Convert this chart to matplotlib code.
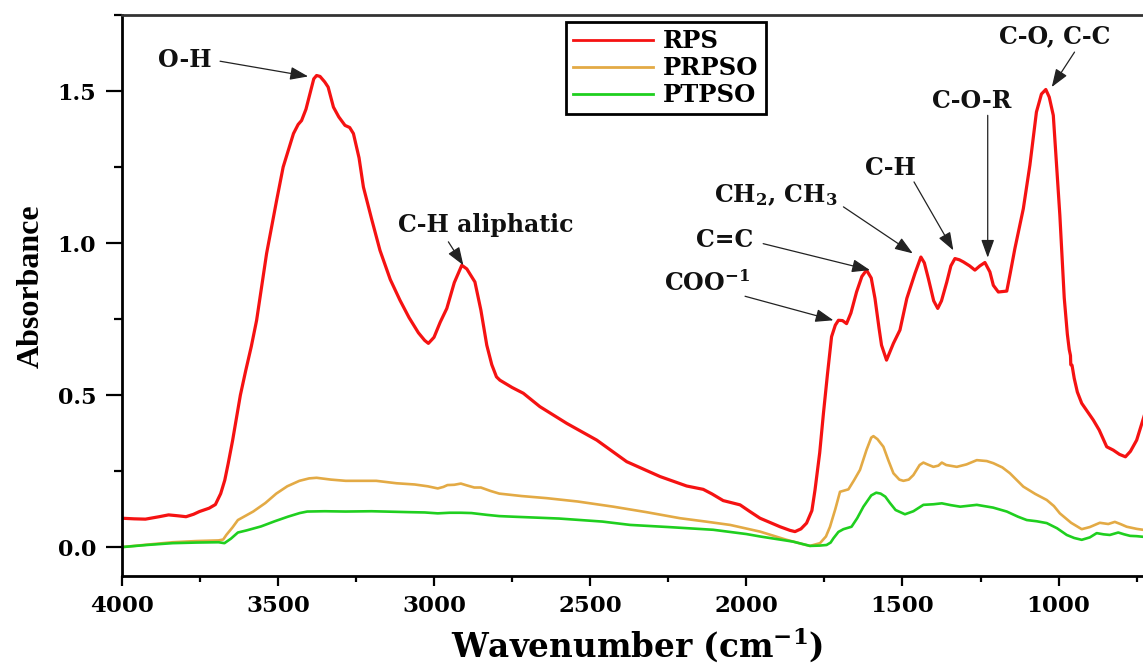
import matplotlib
matplotlib.use("Agg")
import matplotlib.pyplot as plt
from matplotlib.ticker import MultipleLocator, FormatStrFormatter

# ---------------- data ----------------
rps_w = [4000, 3960, 3924, 3880, 3850, 3820, 3794, 3770, 3751, 3720, 3700, 3683, 3670, 3659,
         3645, 3634, 3620, 3603, 3585, 3568, 3536, 3504, 3483, 3465, 3450, 3435, 3424, 3410,
         3395, 3385, 3376, 3365, 3350, 3339, 3322, 3305, 3285, 3270, 3258, 3240, 3226, 3200,
         3173, 3140, 3109, 3080, 3050, 3030, 3018, 3000, 2980, 2959, 2935, 2911, 2895, 2869,
         2850, 2831, 2815, 2800, 2789, 2750, 2714, 2661, 2575, 2479, 2383, 2276, 2191, 2138,
         2110, 2074, 2020, 1990, 1956, 1892, 1860, 1844, 1825, 1807, 1790, 1780, 1765, 1753,
         1740, 1727, 1715, 1705, 1692, 1679, 1665, 1647, 1630, 1615, 1600, 1588, 1575, 1567,
         1551, 1529, 1508, 1486, 1460, 1441, 1430, 1417, 1400, 1387, 1375, 1358, 1345, 1332,
         1318, 1305, 1285, 1268, 1252, 1236, 1220, 1209, 1193, 1166, 1155, 1140, 1113, 1092,
         1071, 1055, 1041, 1030, 1017, 996, 982, 972, 966, 962, 961, 957, 950, 940, 926, 889,
         870, 846, 825, 805, 786, 770, 750, 730, 715]
rps_a = [0.095, 0.093, 0.092, 0.100, 0.106, 0.103, 0.100, 0.108, 0.117, 0.128, 0.140, 0.176,
         0.220, 0.275, 0.350, 0.416, 0.500, 0.580, 0.660, 0.746, 0.966, 1.140, 1.250, 1.310,
         1.360, 1.390, 1.403, 1.440, 1.500, 1.540, 1.551, 1.548, 1.530, 1.513, 1.447, 1.415,
         1.387, 1.380, 1.360, 1.280, 1.184, 1.080, 0.976, 0.880, 0.812, 0.755, 0.705, 0.680,
         0.670, 0.690, 0.740, 0.785, 0.870, 0.927, 0.915, 0.872, 0.780, 0.664, 0.600, 0.560,
         0.549, 0.525, 0.506, 0.462, 0.407, 0.352, 0.281, 0.232, 0.201, 0.190, 0.175, 0.153,
         0.139, 0.118, 0.095, 0.067, 0.055, 0.051, 0.060, 0.079, 0.120, 0.188, 0.310, 0.440,
         0.570, 0.692, 0.730, 0.746, 0.745, 0.735, 0.770, 0.839, 0.890, 0.911, 0.885, 0.818,
         0.720, 0.664, 0.615, 0.670, 0.714, 0.818, 0.900, 0.954, 0.935, 0.883, 0.810, 0.785,
         0.810, 0.872, 0.925, 0.949, 0.945, 0.938, 0.925, 0.911, 0.925, 0.936, 0.905, 0.861,
         0.839, 0.842, 0.900, 0.982, 1.113, 1.256, 1.431, 1.490, 1.505, 1.480, 1.420, 1.091,
         0.820, 0.700, 0.650, 0.630, 0.600, 0.598, 0.555, 0.510, 0.473, 0.418, 0.385, 0.330,
         0.319, 0.305, 0.297, 0.315, 0.352, 0.418, 0.470]

prpso_w = [4000, 3920, 3837, 3760, 3690, 3675, 3665, 3645, 3628, 3600, 3579, 3540, 3505, 3470,
           3431, 3400, 3376, 3330, 3283, 3185, 3120, 3062, 3020, 2988, 2970, 2957, 2935, 2914,
           2895, 2871, 2850, 2820, 2791, 2720, 2639, 2540, 2426, 2320, 2212, 2130, 2052, 1956,
           1871, 1820, 1796, 1764, 1745, 1732, 1715, 1700, 1673, 1655, 1636, 1615, 1600, 1593,
           1580, 1561, 1545, 1529, 1510, 1497, 1480, 1465, 1445, 1433, 1420, 1401, 1385, 1374,
           1360, 1326, 1295, 1262, 1230, 1209, 1180, 1156, 1113, 1075, 1038, 1015, 996, 960,
           926, 900, 868, 841, 820, 800, 782, 750, 730, 710]
prpso_a = [0.000, 0.008, 0.016, 0.020, 0.022, 0.025, 0.040, 0.065, 0.089, 0.105, 0.117, 0.145,
           0.176, 0.200, 0.218, 0.226, 0.228, 0.222, 0.218, 0.218, 0.210, 0.206, 0.200, 0.193,
           0.198, 0.204, 0.205, 0.209, 0.203, 0.196, 0.196, 0.185, 0.176, 0.168, 0.161, 0.150,
           0.133, 0.115, 0.095, 0.084, 0.073, 0.051, 0.024, 0.010, 0.004, 0.013, 0.035, 0.067,
           0.125, 0.182, 0.190, 0.220, 0.254, 0.320, 0.360, 0.365, 0.355, 0.330, 0.285, 0.243,
           0.222, 0.218, 0.222, 0.237, 0.270, 0.278, 0.272, 0.264, 0.268, 0.278, 0.270, 0.264,
           0.272, 0.286, 0.283, 0.276, 0.262, 0.243, 0.199, 0.175, 0.155, 0.135, 0.111, 0.080,
           0.059, 0.066, 0.080, 0.076, 0.083, 0.075, 0.067, 0.060, 0.057, 0.055]

ptpso_w = [4000, 3920, 3837, 3760, 3690, 3671, 3650, 3628, 3600, 3554, 3510, 3468, 3430, 3406,
           3350, 3283, 3200, 3160, 3080, 3030, 2988, 2950, 2914, 2880, 2830, 2791, 2746, 2600,
           2461, 2372, 2250, 2106, 2000, 1956, 1900, 1850, 1796, 1765, 1743, 1730, 1721, 1705,
           1689, 1663, 1645, 1625, 1600, 1584, 1570, 1555, 1540, 1522, 1492, 1465, 1433, 1400,
           1374, 1345, 1315, 1262, 1210, 1166, 1130, 1102, 1070, 1038, 1005, 974, 950, 926, 900,
           878, 856, 836, 809, 790, 771, 750, 730, 710]
ptpso_a = [0.000, 0.007, 0.013, 0.015, 0.016, 0.013, 0.028, 0.048, 0.055, 0.068, 0.085, 0.100,
           0.112, 0.117, 0.118, 0.117, 0.118, 0.117, 0.115, 0.114, 0.111, 0.113, 0.113, 0.112,
           0.106, 0.102, 0.100, 0.094, 0.084, 0.073, 0.066, 0.057, 0.043, 0.035, 0.026, 0.018,
           0.004, 0.005, 0.007, 0.015, 0.029, 0.050, 0.059, 0.067, 0.095, 0.133, 0.170, 0.179,
           0.176, 0.166, 0.145, 0.122, 0.108, 0.118, 0.139, 0.141, 0.144, 0.138, 0.133, 0.139,
           0.130, 0.117, 0.100, 0.089, 0.085, 0.079, 0.062, 0.040, 0.030, 0.024, 0.032, 0.046,
           0.042, 0.040, 0.048, 0.042, 0.037, 0.036, 0.034, 0.033]

series_names = ["RPS", "PRPSO", "PTPSO"]

# annotation labels: text, text position (w, A), arrow start, arrow tip
ann_labels = ["O-H", "C-H aliphatic", "COO$^{\\mathbf{-1}}$", "C=C",
              "CH$_{\\mathbf{2}}$, CH$_{\\mathbf{3}}$", "C-H", "C-O-R", "C-O, C-C"]
ann_text_pos = [(3797, 1.601), (2833, 1.059), (2126, 0.868), (2071, 1.009),
                (1905, 1.157), (1540, 1.246), (1277, 1.467), (1011, 1.679)]
ann_arrow_start = [(3685, 1.598), (2954, 1.004), (2004, 0.825), (1946, 0.998),
                   (1689, 1.119), (1463, 1.201), (1227, 1.420), (949, 1.628)]
ann_arrow_tip = [(3403, 1.548), (2906, 0.927), (1721, 0.746), (1604, 0.911),
                 (1467, 0.966), (1337, 0.976), (1227, 0.952), (1022, 1.513)]

# ---------------- styling ----------------
plt.rcParams["font.family"] = ["DejaVu Serif"]
plt.rcParams["font.weight"] = "bold"
plt.rcParams["mathtext.fontset"] = "dejavuserif"
plt.rcParams["mathtext.default"] = "bf"

colors = ["#f51212", "#e3aa45", "#1fcf1f"]
widths = [2.3, 1.9, 1.9]

fig = plt.figure(figsize=(11.43, 6.67), dpi=100)
W, H = 1143.0, 667.0
ax = fig.add_axes([121.7 / W, 91.0 / H, 1030.6 / W, 561.0 / H])

for w, a, c, lw, name in zip([rps_w, prpso_w, ptpso_w], [rps_a, prpso_a, ptpso_a],
                             colors, widths, series_names):
    ax.plot(w, a, color=c, lw=lw, label=name, solid_joinstyle="round")

ax.set_xlim(4000, 700)
ax.set_ylim(-0.095, 1.75)

ax.xaxis.set_major_locator(MultipleLocator(500))
ax.xaxis.set_minor_locator(MultipleLocator(250))
ax.yaxis.set_major_locator(MultipleLocator(0.5))
ax.yaxis.set_minor_locator(MultipleLocator(0.25))
ax.yaxis.set_major_formatter(FormatStrFormatter("%.1f"))

for s in ax.spines.values():
    s.set_linewidth(2.0)
ax.spines["top"].set_color("#333333")

ax.tick_params(axis="x", which="major", direction="out", length=7.5, width=1.6,
               labelsize=16.5, pad=6)
ax.tick_params(axis="x", which="minor", direction="out", length=4, width=1.6)
ax.tick_params(axis="y", which="major", direction="out", length=11.5, width=1.6,
               labelsize=16, pad=7)
ax.tick_params(axis="y", which="minor", direction="out", length=6, width=1.6)
for lab in ax.get_xticklabels() + ax.get_yticklabels():
    lab.set_fontweight("bold")

ax.set_xlabel("Wavenumber (cm$^{\\mathbf{-1}}$)", fontsize=23.5, fontweight="bold", labelpad=6)
ax.set_ylabel("Absorbance", fontsize=23, fontweight="bold", family="Liberation Serif")
ax.yaxis.set_label_coords(-0.074, 0.517)

for txt, tp, st, tip in zip(ann_labels, ann_text_pos, ann_arrow_start, ann_arrow_tip):
    ax.text(tp[0], tp[1], txt, fontsize=17, fontweight="bold", ha="center", va="center",
            color="#111111")
    ax.annotate("", xy=tip, xytext=st,
                arrowprops=dict(arrowstyle="-|>,head_length=0.55,head_width=0.2",
                                color="#222222", lw=0.9, shrinkA=0, shrinkB=0,
                                mutation_scale=20))

leg = ax.legend(loc="upper left", bbox_to_anchor=(0.431, 0.9875), borderaxespad=0,
                fancybox=False, framealpha=1, edgecolor="black",
                handlelength=3.3, handletextpad=0.4, labelspacing=0.12, borderpad=0.3,
                prop={"weight": "bold", "size": 17.5})
leg.get_frame().set_linewidth(2.0)
for line in leg.get_lines():
    line.set_linewidth(2.0)

fig.savefig("out.png", dpi=100)
